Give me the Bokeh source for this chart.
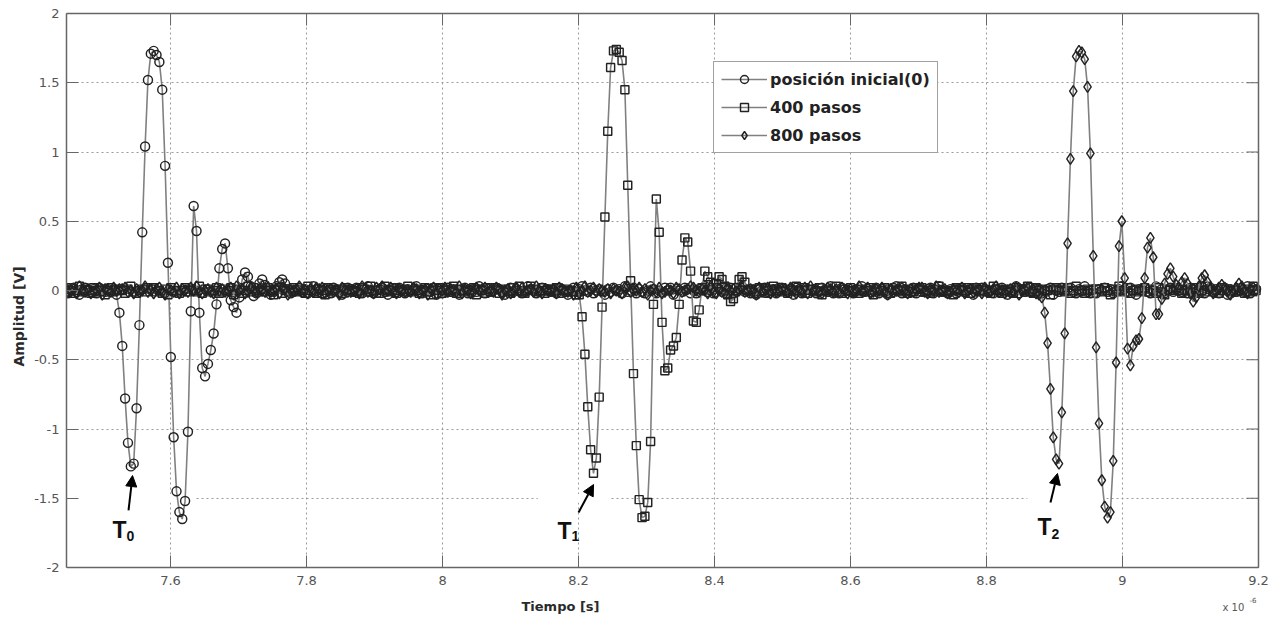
import numpy as np
from bokeh.plotting import figure
from bokeh.models import (Range1d, FixedTicker, LinearAxis, Legend, LegendItem,
                          Label, Arrow, NormalHead)
from bokeh.embed import file_html
from bokeh.resources import INLINE

# ---------------- data (amplitudes in hundredths of a volt) ----------------
T_START = 7.445          # x 1e-6 s, first sample
DT = 0.0042              # sample interval (x 1e-6 s)

ref_pre = [
    1,-2,0,2,-1,-3,1,2,0,-1,
    1,-2,2,0,-1,1,-1,0,-3]
ref_pulse = [
    -16,-40,-78,-110,-127,-125,-85,-25,42,104,
    152,171,173,170,165,145,90,20,-48,-106,
    -145,-160,-165,-152,-102,-15,61,43,-16,-56,
    -62,-53,-43,-31,-10,16,30,34,16,-7,
    -12,-16,-5,8,13,10,3,-4,-2,5,
    8,4,0,-3,-1,3,6,8,5,1,
    -2,-1]
ref_post = [
    0,2,-1,1,-2,0,3,1,-1,-2,
    1,0,-2,2,1,-1,-3,0,2,1,
    -1,2,0,-2,1,3,-1,-2,0,1,
    2,-1,-3,0,1,-1,2,0,-2,1,
    0,1,3,-1,-2,0,1,-1,2,-3,
    1,-2,0,2,-1,1,0,-3,1,2,
    -2,0,1,-1,3,0,-2,1,-1,0,
    2,1,-1,-3,0,2,-1,1,0,-2,
    -1,3,1,0,-2,-1,2,0,1,-1,
    0,-2,2,1,-1,-3,0,2,-1,1,
    3,0,-1,2,-2,0,1,-1,-3,1,
    -1,2,0,1,-2,3,-1,0,2,-2,
    1,-1,-2,0,3,1,-2,0,-1,2,
    0,2,-3,1,0,-1,2,1,-2,0,
    -2,1,0,3,-1,0,-2,2,1,-1,
    1,0,2,-2,-1,1,3,-1,0,-2,
    -1,-3,1,0,2,-1,0,1,-2,2,
    2,0,-1,1,-3,2,1,-2,0,1,
    0,1,-2,-1,2,0,-1,3,-2,0,
    -2,2,1,0,-1,-2,1,0,3,-1,
    1,-1,0,2,-2,1,-1,-3,0,2,
    3,0,-2,1,0,-1,2,-2,1,-1,
    -1,1,2,-2,0,3,-1,0,-2,1,
    0,-2,1,2,-1,0,1,-3,2,0,
    2,1,-1,0,-2,1,-1,2,0,-3,
    -1,0,3,-2,1,-1,0,2,-1,1,
    1,-2,0,1,2,-3,0,-1,2,0,
    0,2,-1,-2,1,0,3,-1,-2,1,
    -2,1,0,2,-1,1,-2,0,1,3,
    1,-1,2,0,-3,1,0,2,-1,-2,
    0,3,-1,1,-2,0,2,-1,1,0,
    -1,0,-2,2,1,-1,0,3,-2,1,
    2,-1,1,-2,0,2,-3,1,0,-1,
    0,1,-1,3,-2,0,1,-1,2,0]

p400_pre = [
    -1,1,2,-2,0,3,-1,1,0,-2,
    2,0,-1,1,-3,0,2,-1,1,0,
    0,-2,1,3,-1,-2,0,1,-1,2,
    1,2,-1,0,-2,1,-3,2,0,-1,
    -2,0,2,-1,1,0,-1,3,-2,1,
    1,-1,0,2,-2,-1,1,0,2,-3,
    0,1,-2,0,3,-1,2,-1,0,1,
    -1,2,0,-3,1,2,-2,0,1,-1,
    2,-1,1,0,-2,3,0,-1,-2,1,
    0,-3,2,1,-1,0,1,-2,2,0,
    1,0,-1,-2,2,1,-1,3,0,-2,
    -2,1,3,0,-1,2,-2,0,1,-1,
    3,-1,0,1,-2,0,2,-1,-3,1,
    0,2,-2,1,0,-1,3,-2,1,0,
    -1,0,1,2,-3,1,0,-2,2,-1,
    2,1,-2,0,1,-1,-2,2,0,3,
    -1,-2,0,3,1,-1,0,2,-2,0,
    1,-1,2,-2,0,1,-1,0,-1,-3,
    -3]
p400_pulse = [
    -19,-46,-84,-115,-132,-121,-77,-12,53,115,
    161,173,174,172,166,145,76,7,-60,-112,
    -151,-164,-163,-153,-109,-10,66,42,-23,-58,
    -56,-43,-40,-34,-10,22,38,35,14,-22,
    -23,-14,2,14,10,6,2,5,10,8,
    3,-3,-8,-6,2,8,10,6]
p400_post = [
    0,1,-2,1,2,-1,0,-2,1,3,
    -1,0,2,-1,-2,1,0,3,-1,0,
    2,-2,1,0,-1,2,-3,0,1,-1,
    0,3,-1,-2,1,0,2,-1,0,-2,
    1,-1,0,2,-3,1,-1,0,2,1,
    -2,0,1,-1,3,0,-2,1,-1,2,
    1,2,-1,0,-2,-1,1,3,0,-1,
    -1,0,-3,2,1,0,-1,2,-2,1,
    2,-1,1,0,-1,-2,3,0,1,-2,
    0,1,-1,-2,2,1,0,-1,3,-1,
    -2,2,0,1,-1,0,-3,1,2,0,
    1,-1,2,-2,0,3,-1,0,-2,1,
    0,-2,1,1,-1,2,0,-3,1,-1,
    3,0,-1,2,-2,0,1,-1,0,2,
    -1,1,0,-2,2,-1,-3,1,0,1,
    2,0,-2,1,0,1,-1,2,-2,0,
    -1,3,1,-1,0,-2,2,0,1,-1,
    0,-1,2,0,-2,1,-1,3,0,-2]

p800_pre = [
    2,-1,0,1,-2,3,0,-1,1,-2,
    -1,0,2,-3,1,0,-1,2,0,1,
    1,2,-1,0,-2,1,-1,0,3,-1,
    0,-2,1,2,-1,-3,1,0,-1,2,
    -2,1,0,-1,2,0,3,-1,-2,0,
    1,-1,-2,2,0,1,-1,0,2,-3,
    3,0,1,-2,-1,2,0,-1,1,0,
    -1,2,-1,0,1,-2,2,1,-3,0,
    0,1,3,-1,0,-2,1,-1,2,1,
    2,-2,0,1,-1,0,-3,2,0,-1,
    -1,0,1,-2,3,1,-1,0,-2,2,
    1,3,-1,0,2,-1,-2,1,0,-1,
    0,-1,2,1,-2,0,1,-3,1,2,
    -2,1,0,2,-1,1,0,-1,3,-2,
    1,0,-2,-1,2,0,1,2,-1,0,
    -1,2,1,-3,0,1,-2,0,2,-1,
    2,-1,0,1,-1,3,0,-2,1,0,
    0,1,-2,2,1,-1,-1,0,-3,2,
    -2,0,3,-1,0,2,-1,1,0,-1,
    1,-2,1,0,-1,-2,2,3,-1,0,
    0,2,-1,1,-3,0,1,-1,2,-2,
    -1,1,0,-2,2,1,-1,0,1,3,
    2,0,-1,1,0,-2,3,-1,-2,1,
    -1,-2,2,0,1,-1,0,2,-1,0,
    1,0,-3,2,-1,1,2,-2,0,-1,
    0,1,1,-1,2,0,-2,1,-1,2,
    -2,3,0,1,-1,-2,0,2,1,-1,
    1,-1,2,0,-2,1,-1,0,3,0,
    0,2,-2,-1,1,0,2,-1,-3,1,
    -1,0,1,2,0,-2,1,-1,0,2,
    2,-1,-2,1,0,3,-1,0,1,-2,
    -1,1,0,-1,2,-2,0,1,-1,0,
    1,-2,2,0,-1,1,3,-1,0,-2,
    0,1,-1,2,-3,0,1,2,-1,0,
    -2,-3]
p800_pulse = [
    -5,-16,-38,-71,-106,-122,-125,-88,-31,34,
    95,144,169,173,172,167,147,99,25,-41,
    -96,-137,-156,-164,-160,-123,-52,32,50,9,
    -42,-54,-40,-36,-35,-20,9,31,38,24,
    -17,-17,-6,5,12,16,10,4,2,6,
    9,5,-2,-8,-5,3,9,11,6,1,
    -2,-1,2,4,2,-1,-3,-1,2,5,
    3,0,-2,1,2,0]

series_names = ["posición inicial(0)", "400 pasos", "800 pasos"]
series_cV = [ref_pre + ref_pulse + ref_post,
             p400_pre + p400_pulse + p400_post,
             p800_pre + p800_pulse]
series_markers = ["circle", "square", "diamond"]
series_sizes = [9, 8, 11]

X_MIN, X_MAX = 7.447, 9.2
Y_MIN, Y_MAX = -2.0, 2.0
x_ticks = [7.6, 7.8, 8.0, 8.2, 8.4, 8.6, 8.8, 9.0, 9.2]
x_tick_labels = ["7.6", "7.8", "8", "8.2", "8.4", "8.6", "8.8", "9", "9.2"]
y_ticks = [-2, -1.5, -1, -0.5, 0, 0.5, 1, 1.5, 2]
y_tick_labels = ["-2", "-1.5", "-1", "-0.5", "0", "0.5", "1", "1.5", "2"]

# annotation positions (data units): T labels and arrows
t_marks = [("0", 7.5147, -1.726, 7.5353, -1.769, 7.5382, -1.588, 7.5441, -1.336),
           ("1", 8.1691, -1.733, 8.1897, -1.776, 8.2000, -1.603, 8.2221, -1.401),
           ("2", 8.8750, -1.711, 8.8956, -1.755, 8.8941, -1.531, 8.9044, -1.321)]
grid_masks = [(7.447, 7.637), (8.140, 8.247), (8.860, 8.974)]

# ---------------- figure ----------------
FONT = "DejaVu Sans"
TFONT = "Liberation Sans"
W, H = 1272, 619
LEFT, RIGHT_BOX = 66, 1258           # pixel columns of x=X_MIN and x=X_MAX
TOP, BOTTOM_BOX = 13, 567            # pixel rows of y=2 and y=-2
TICK_PX = 12
py_per_unit = (BOTTOM_BOX - TOP) / (Y_MAX - Y_MIN)
px_per_unit = (RIGHT_BOX - LEFT) / (X_MAX - X_MIN)
y_low = Y_MIN - (H - BOTTOM_BOX) / py_per_unit    # frame reaches canvas bottom
x_high = X_MAX + (W - RIGHT_BOX) / px_per_unit    # frame reaches canvas right

p = figure(width=W, height=H, output_backend="svg", toolbar_location=None,
           x_range=Range1d(X_MIN, x_high), y_range=Range1d(y_low, Y_MAX),
           min_border_left=LEFT, min_border_right=0, min_border_top=TOP,
           min_border_bottom=0, background_fill_color="white",
           border_fill_color="white")
p.outline_line_color = None

xt = FixedTicker(ticks=x_ticks)
yt = FixedTicker(ticks=y_ticks)

bottom_ax = p.below[0]
left_ax = p.left[0]
bottom_ax.ticker = xt
bottom_ax.fixed_location = Y_MIN
bottom_ax.bounds = (X_MIN, X_MAX)
bottom_ax.major_label_overrides = dict(zip(x_ticks, x_tick_labels))
bottom_ax.major_label_standoff = 8
left_ax.ticker = yt
left_ax.bounds = (Y_MIN, Y_MAX)
left_ax.major_label_overrides = dict(zip(y_ticks, y_tick_labels))
left_ax.major_label_standoff = 7
left_ax.axis_label = "Amplitud [V]"
left_ax.axis_label_standoff = 4
left_ax.axis_label_text_font = FONT
left_ax.axis_label_text_font_size = "14px"
left_ax.axis_label_text_font_style = "bold"
left_ax.axis_label_text_color = "#2a2a2a"
for ax in (bottom_ax, left_ax):
    ax.major_label_text_font = FONT
    ax.major_label_text_font_size = "13px"
    ax.major_label_text_color = "#555555"
    ax.major_tick_in = TICK_PX
    ax.major_tick_out = 0
    ax.major_tick_line_color = "#666666"
    ax.major_tick_line_width = 1

# top and right box edges: axis lines only (no ticks/labels of their own)
top_ax = LinearAxis(ticker=FixedTicker(ticks=[]), bounds=(X_MIN, X_MAX))
right_ax = LinearAxis(ticker=FixedTicker(ticks=[]), bounds=(Y_MIN, Y_MAX),
                      fixed_location=X_MAX)
p.add_layout(top_ax, "above")
p.add_layout(right_ax, "right")

for ax in (bottom_ax, left_ax, top_ax, right_ax):
    ax.minor_tick_in = 0
    ax.minor_tick_out = 0
    ax.axis_line_color = "#666666"
    ax.axis_line_width = 1.5

p.xgrid.ticker = xt
p.ygrid.ticker = yt
for g in (p.xgrid, p.ygrid):
    g.grid_line_color = "#9a9a9a"
    g.grid_line_dash = "2 3"
    g.grid_line_width = 1

# white patches: outside the axes box, and behind the T labels on the -1.5 grid line
p.quad(left=[X_MIN - 1, X_MAX], right=[x_high + 1, x_high + 1],
       bottom=[y_low - 1, y_low - 1], top=[Y_MIN, Y_MAX + 1],
       fill_color="white", line_color=None)
p.quad(left=[m[0] for m in grid_masks], right=[m[1] for m in grid_masks],
       bottom=-1.53, top=-1.47, fill_color="white", line_color=None)

# inward ticks on the top and right edges, at the same tick values
p.segment(x0=x_ticks, x1=x_ticks, y0=Y_MAX, y1=Y_MAX - TICK_PX / py_per_unit,
          line_color="#666666", line_width=1)
p.segment(x0=X_MAX, x1=X_MAX - TICK_PX / px_per_unit, y0=y_ticks, y1=y_ticks,
          line_color="#666666", line_width=1)

items = []
for name, vals, mk, sz in zip(series_names, series_cV, series_markers, series_sizes):
    v = np.array(vals, dtype=float) / 100.0
    t = T_START + DT * np.arange(len(v))
    keep = t <= X_MAX
    lr = p.line(t[keep], v[keep], line_color="#808080", line_width=1.6)
    sr = p.scatter(t[keep], v[keep], marker=mk, size=sz, fill_color=None,
                   line_color="#222222", line_width=1.45)
    items.append(LegendItem(label=name, renderers=[lr, sr]))

legend = Legend(items=items, location=(647, H - 153), margin=0, padding=7,
                spacing=8, glyph_width=46, glyph_height=20, label_height=20,
                label_standoff=3, label_text_font=FONT, label_text_font_size="16px",
                label_text_font_style="bold", label_text_color="#222222",
                border_line_color="#444444", border_line_width=1,
                background_fill_color="white", background_fill_alpha=1.0)
p.add_layout(legend)

for sub, tx, ty, sx, sy, ax0, ay0, ax1, ay1 in t_marks:
    p.add_layout(Label(x=tx, y=ty, text="T", text_font=TFONT, text_font_size="23px",
                       text_font_style="bold", text_color="#111111",
                       text_baseline="alphabetic"))
    p.add_layout(Label(x=sx, y=sy, text=sub, text_font=TFONT, text_font_size="14px",
                       text_font_style="bold", text_color="#111111",
                       text_baseline="alphabetic"))
    p.add_layout(Arrow(end=NormalHead(size=11, fill_color="black", line_color="black"),
                       x_start=ax0, y_start=ay0, x_end=ax1, y_end=ay1,
                       line_color="black", line_width=2))

# x-axis title and exponent (positioned in data units below the box)
p.add_layout(Label(x=8.1735, y=-2.2816, text="Tiempo [s]", text_font=FONT,
                   text_font_size="13px", text_font_style="bold", text_color="#2a2a2a",
                   text_align="center", text_baseline="middle"))
p.add_layout(Label(x=9.147, y=-2.289, text="x 10", text_font=FONT,
                   text_font_size="10px", text_color="#555555", text_baseline="middle"))
p.add_layout(Label(x=9.1868, y=-2.238, text="-6", text_font=FONT,
                   text_font_size="7px", text_color="#555555", text_baseline="middle"))

open("out.html", "w", encoding="utf-8").write(file_html(p, INLINE))
